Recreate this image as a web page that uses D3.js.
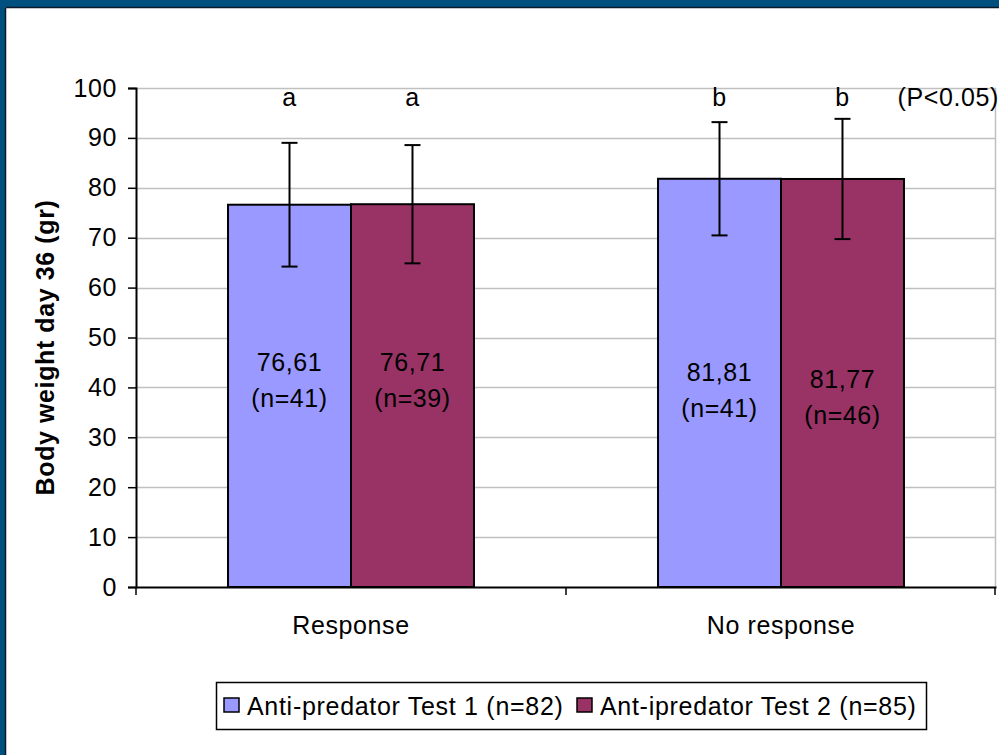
<!DOCTYPE html>
<html>
<head>
<meta charset="utf-8">
<script src="https://cdn.jsdelivr.net/npm/d3@7"></script>
<style>
  html, body { margin: 0; padding: 0; background: #ffffff; }
  svg text { font-family: "Liberation Sans", Arial, sans-serif; fill: #000; letter-spacing: 0.6px; }
</style>
</head>
<body>
<div id="container"></div>
<script>
/* DATA */
const categories = ["Response", "No response"];
const series = ["Anti-predator Test 1 (n=82)", "Ant-ipredator Test 2 (n=85)"];
// means per category, one array per series
const test1Means = [76.61, 81.81];
const test2Means = [76.71, 81.77];
// standard deviations
const test1Sd = [12.4, 11.35];
const test2Sd = [11.85, 12.05];
const test1N = [41, 41];
const test2N = [39, 46];
const sigLetters = ["a", "b"];
const yTicks = [0, 10, 20, 30, 40, 50, 60, 70, 80, 90, 100];

/* CONSTANTS */
const width = 999, height = 755;
const margin = { top: 88, right: 3, bottom: 168, left: 136 };
const colors = ["#9999ff", "#993366"];
const fs = "25px";

const svg = d3.select("#container")
  .append("svg")
  .attr("width", width)
  .attr("height", height);

// dark blue frame (only top and left show in the picture)
svg.append("rect").attr("x", 0).attr("y", 0).attr("width", width).attr("height", 7).attr("fill", "#00507f");
svg.append("rect").attr("x", 0).attr("y", 0).attr("width", 5).attr("height", height).attr("fill", "#00507f");
svg.append("line").attr("x1", 5.5).attr("x2", width).attr("y1", 7.5).attr("y2", 7.5).attr("stroke", "#0a1a2a").attr("stroke-width", 1.5);
svg.append("line").attr("x1", 5.5).attr("x2", 5.5).attr("y1", 7.5).attr("y2", height).attr("stroke", "#0a1a2a").attr("stroke-width", 1.5);

/* SCALES */
const yScale = d3.scaleLinear()
  .domain([0, 100])
  .range([height - margin.bottom, margin.top]);

const xScale = d3.scaleBand()
  .domain(categories)
  .range([margin.left, width - margin.right])
  .paddingInner(0.428)
  .paddingOuter(0.214);

const xSub = d3.scaleBand()
  .domain(series)
  .range([0, xScale.bandwidth()]);

// table built from the arrays
const rows = [];
categories.forEach((c, i) => {
  rows.push({ cat: c, s: series[0], mean: test1Means[i], sd: test1Sd[i], n: test1N[i], col: 0, ci: i });
  rows.push({ cat: c, s: series[1], mean: test2Means[i], sd: test2Sd[i], n: test2N[i], col: 1, ci: i });
});

/* GRIDLINES */
const plotLeft = margin.left, plotRight = width - margin.right;
svg.append("g")
  .selectAll("line")
  .data(yTicks.filter(d => d > 0))
  .join("line")
  .attr("x1", plotLeft)
  .attr("x2", plotRight)
  .attr("y1", d => Math.round(yScale(d)) + 0.5)
  .attr("y2", d => Math.round(yScale(d)) + 0.5)
  .attr("stroke", "#c0c0c0")
  .attr("stroke-width", 1.5);

// right edge of plot area
svg.append("line")
  .attr("x1", plotRight - 0.5).attr("x2", plotRight - 0.5)
  .attr("y1", yScale(100)).attr("y2", yScale(0))
  .attr("stroke", "#c0c0c0").attr("stroke-width", 1.5);

/* BARS */
svg.append("g")
  .selectAll("rect")
  .data(rows)
  .join("rect")
  .attr("x", d => xScale(d.cat) + xSub(d.s))
  .attr("y", d => yScale(d.mean))
  .attr("width", xSub.bandwidth())
  .attr("height", d => yScale(0) - yScale(d.mean))
  .attr("fill", d => colors[d.col])
  .attr("stroke", "#000")
  .attr("stroke-width", 2);

/* ERROR BARS */
const capW = 8;
const eb = svg.append("g").attr("stroke", "#000").attr("stroke-width", 2);
rows.forEach(d => {
  const cx = xScale(d.cat) + xSub(d.s) + xSub.bandwidth() / 2;
  const yTop = yScale(d.mean + d.sd), yBot = yScale(d.mean - d.sd);
  eb.append("line").attr("x1", cx).attr("x2", cx).attr("y1", yTop).attr("y2", yBot);
  eb.append("line").attr("x1", cx - capW).attr("x2", cx + capW).attr("y1", yTop).attr("y2", yTop);
  eb.append("line").attr("x1", cx - capW).attr("x2", cx + capW).attr("y1", yBot).attr("y2", yBot);
});

/* AXES */
const yAxis = d3.axisLeft(yScale).tickValues(yTicks).tickSize(8).tickPadding(11);
const gy = svg.append("g")
  .attr("transform", `translate(${plotLeft},0)`)
  .call(yAxis);
gy.select(".domain").attr("stroke", "#000").attr("stroke-width", 2);
gy.selectAll(".tick line").attr("stroke", "#000").attr("stroke-width", 1.5);
gy.selectAll("text").style("font-size", fs).attr("fill", "#000");

const xAxis = d3.axisBottom(xScale).tickSize(0).tickPadding(29);
const gx = svg.append("g")
  .attr("transform", `translate(0,${yScale(0)})`)
  .call(xAxis);
gx.select(".domain").attr("stroke", "#000").attr("stroke-width", 2);
gx.selectAll("text").style("font-size", fs).attr("fill", "#000");

// category boundary ticks
const bounds = [plotLeft, (plotLeft + plotRight) / 2, plotRight - 1];
svg.append("g")
  .selectAll("line")
  .data(bounds)
  .join("line")
  .attr("x1", d => d).attr("x2", d => d)
  .attr("y1", yScale(0)).attr("y2", yScale(0) + 8)
  .attr("stroke", "#000").attr("stroke-width", 1.5);

/* SIGNIFICANCE LETTERS */
svg.append("g")
  .selectAll("text")
  .data(rows)
  .join("text")
  .attr("x", d => xScale(d.cat) + xSub(d.s) + xSub.bandwidth() / 2)
  .attr("y", yScale(100) + 18)
  .attr("text-anchor", "middle")
  .style("font-size", fs)
  .text(d => sigLetters[d.ci]);

svg.append("text")
  .attr("x", plotRight + 3)
  .attr("y", yScale(100) + 18)
  .attr("text-anchor", "end")
  .style("font-size", fs)
  .text("(P<0.05)");

/* VALUE LABELS inside bars */
const labelShift = [-16, -16, 7, 14];
svg.append("g")
  .selectAll("text")
  .data(rows)
  .join("text")
  .attr("text-anchor", "middle")
  .style("font-size", fs)
  .attr("transform", (d, i) => {
    const cx = xScale(d.cat) + xSub(d.s) + xSub.bandwidth() / 2;
    const cy = yScale(d.mean / 2) + labelShift[i];
    return `translate(${cx},${cy})`;
  })
  .each(function (d) {
    const t = d3.select(this);
    t.append("tspan").attr("x", 0).attr("y", -9).text(d3.format(".2f")(d.mean).replace(".", ","));
    t.append("tspan").attr("x", 0).attr("y", 27).text(`(n=${d.n})`);
  });

/* Y AXIS TITLE */
svg.append("text")
  .attr("transform", `translate(54,${(yScale(0) + yScale(100)) / 2 + 10}) rotate(-90)`)
  .attr("text-anchor", "middle")
  .style("font-size", fs)
  .style("letter-spacing", "0.6px")
  .style("font-weight", "bold")
  .text("Body weight day 36 (gr)");

/* LEGEND */
const legend = svg.append("g");
legend.append("rect")
  .attr("x", 216.5).attr("y", 682.5)
  .attr("width", 710).attr("height", 47)
  .attr("fill", "#fff").attr("stroke", "#000").attr("stroke-width", 1.5);
const legX = [224, 577];
series.forEach((s, i) => {
  legend.append("rect")
    .attr("x", legX[i]).attr("y", 698)
    .attr("width", 15).attr("height", 14)
    .attr("fill", colors[i]).attr("stroke", "#000").attr("stroke-width", 1.5);
  legend.append("text")
    .attr("x", legX[i] + 23).attr("y", 715)
    .style("font-size", fs)
    .style("letter-spacing", "0.7px")
    .text(s);
});
</script>
</body>
</html>
